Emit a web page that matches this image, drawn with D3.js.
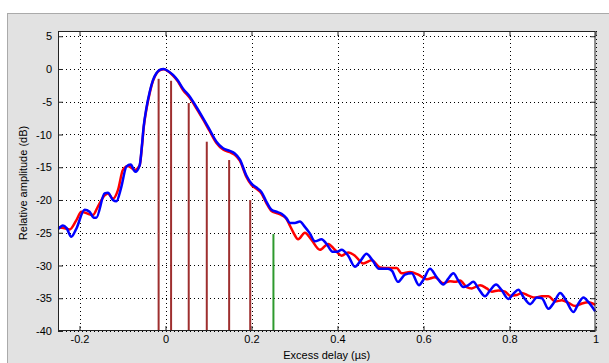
<!DOCTYPE html>
<html>
<head>
<meta charset="utf-8">
<script src="https://cdn.jsdelivr.net/npm/d3@7"></script>
<style>
html,body{margin:0;padding:0;background:#fff;}
svg{display:block;}
text{font-family:Arial,"Liberation Sans",sans-serif;font-size:11px;fill:#000;}
</style>
</head>
<body>
<svg id="chart" width="609" height="363"></svg>
<script>
// ---- data (x in µs, y in dB) ----
const xTicks = [-0.2, 0, 0.2, 0.4, 0.6, 0.8, 1];
const yTicks = [5, 0, -5, -10, -15, -20, -25, -30, -35, -40];
const xTickLabels = ["-0.2", "0", "0.2", "0.4", "0.6", "0.8", "1"];
const yTickLabels = ["5", "0", "-5", "-10", "-15", "-20", "-25", "-30", "-35", "-40"];

const blueX = [-0.2487,-0.2386,-0.230,-0.2191,-0.2075,-0.1881,-0.1765,-0.1665,-0.1609,-0.1416,-0.1339,-0.1222,-0.1143,-0.1027,-0.0910,-0.0810,-0.0701,-0.0601,-0.0547,-0.0508,-0.0445,-0.0368,-0.0291,-0.0212,-0.0135,-0.0042,0.0058,0.0175,0.0291,0.0407,0.0563,0.0719,0.0873,0.1029,0.1185,0.1339,0.1495,0.1611,0.1728,0.1884,0.2000,0.2116,0.2233,0.2349,0.2466,0.2582,0.2699,0.2815,0.2892,0.3008,0.3125,0.3241,0.3357,0.3474,0.3630,0.3746,0.3886,0.3993,0.4095,0.4249,0.4405,0.4545,0.4673,0.4824,0.4964,0.5173,0.5266,0.5406,0.5569,0.5725,0.5895,0.5995,0.6151,0.6307,0.6461,0.6577,0.6694,0.6810,0.6927,0.7043,0.7159,0.7276,0.7432,0.7548,0.7688,0.7821,0.7974,0.8091,0.8207,0.8324,0.8480,0.8636,0.8752,0.8906,0.9038,0.9178,0.9295,0.9488,0.9604,0.9721,0.9837,0.9993];
const blueY = [-24.4,-23.9,-24.3,-25.6,-24.4,-21.5,-21.8,-22.7,-22.7,-19.0,-18.9,-20.0,-20.2,-18.0,-14.9,-14.6,-15.7,-14.7,-11.6,-8.8,-6.0,-3.5,-1.7,-0.66,-0.15,0,-0.3,-0.9,-1.8,-3.0,-4.2,-5.8,-7.5,-9.3,-11.1,-12.1,-12.5,-12.9,-13.8,-16.3,-17.5,-18.1,-18.8,-20.3,-21.5,-21.8,-22.1,-22.8,-23.5,-23.5,-23.3,-24.1,-25.1,-26.3,-26.0,-26.7,-27.9,-27.9,-27.6,-28.5,-30.2,-29.2,-28.2,-29.3,-30.5,-30.5,-30.8,-32.5,-31.4,-31.2,-33.0,-32.2,-30.5,-31.8,-32.9,-32.0,-31.2,-32.3,-33.3,-33.0,-32.5,-33.5,-34.7,-33.8,-32.9,-33.8,-35.1,-34.3,-33.7,-34.8,-35.9,-34.9,-35.0,-36.6,-35.6,-34.2,-35.1,-37.1,-35.8,-34.9,-35.6,-37.0];

const redX = [-0.2487,-0.2347,-0.2230,-0.2075,-0.1958,-0.1804,-0.1688,-0.1572,-0.1416,-0.1339,-0.1222,-0.1106,-0.0990,-0.0873,-0.0717,-0.0601,-0.0547,-0.0508,-0.0445,-0.0368,-0.0291,-0.0212,-0.0135,-0.0042,0.0058,0.0175,0.0291,0.0407,0.0563,0.0719,0.0873,0.1029,0.1185,0.1339,0.1495,0.1611,0.1728,0.1884,0.2000,0.2116,0.2233,0.2349,0.2466,0.2582,0.2699,0.2815,0.2892,0.2969,0.3085,0.3241,0.3397,0.3590,0.3783,0.3939,0.4095,0.4249,0.4405,0.4598,0.4794,0.4987,0.5181,0.5376,0.5492,0.5686,0.5879,0.6075,0.6268,0.6461,0.6617,0.6733,0.6850,0.7006,0.7122,0.7315,0.7471,0.7588,0.7741,0.7898,0.8014,0.8170,0.8286,0.8440,0.8596,0.8752,0.8906,0.9062,0.9218,0.9371,0.9527,0.9683,0.9837,0.9993];
const redY = [-24.2,-24.3,-24.5,-23.1,-21.8,-22.1,-22.3,-21.0,-19.3,-19.0,-19.8,-18.5,-15.4,-14.8,-15.4,-14.7,-11.8,-9.0,-6.2,-3.7,-1.8,-0.7,-0.2,-0.05,-0.35,-1.0,-1.9,-3.2,-4.4,-6.0,-7.7,-9.5,-11.3,-12.3,-12.7,-13.1,-14.0,-16.5,-17.7,-18.3,-19.0,-20.5,-21.7,-22.0,-22.3,-22.9,-23.9,-24.9,-26.0,-25.0,-26.1,-27.6,-26.7,-27.6,-28.5,-28.0,-28.5,-29.7,-29.2,-30.3,-30.4,-30.4,-31.2,-31.0,-31.4,-32.1,-31.8,-32.7,-32.4,-32.5,-32.3,-33.3,-33.5,-33.0,-33.5,-34.0,-33.8,-34.0,-34.6,-34.5,-34.2,-34.6,-34.9,-34.7,-34.7,-35.5,-35.3,-35.7,-36.2,-35.8,-35.6,-36.0];

const stemX = [-0.016, 0.013, 0.054, 0.096, 0.148, 0.197];
const stemY = [-1.5, -1.8, -5.2, -11.1, -13.9, -20.0];
const greenStemX = [0.251];
const greenStemY = [-25.2];

const xDomain = [-0.25, 1];
const yDomain = [-40, 5.8];

// ---- layout ----
const svg = d3.select("#chart");
const L = 58, R = 595.5, T = 31, B = 331;

svg.append("rect").attr("x", 7.5).attr("y", 13.5).attr("width", 620).attr("height", 370)
  .attr("fill", "#e2e2e2").attr("stroke", "#aaaaaa");

const x = d3.scaleLinear().domain(xDomain).range([L, R]);
const y = d3.scaleLinear().domain(yDomain).range([B, T]);

svg.append("rect").attr("x", L).attr("y", T).attr("width", R - L).attr("height", B - T).attr("fill", "#fff");

const g = svg.append("g");
// grid
g.selectAll(".vg").data(xTicks).join("line")
  .attr("x1", d => Math.round(x(d)) + 0.5).attr("x2", d => Math.round(x(d)) + 0.5)
  .attr("y1", T).attr("y2", B)
  .attr("stroke", "#000").attr("stroke-width", 1).attr("stroke-dasharray", "1,3");
g.selectAll(".hg").data(yTicks).join("line")
  .attr("y1", d => Math.round(y(d)) + 0.5).attr("y2", d => Math.round(y(d)) + 0.5)
  .attr("x1", L).attr("x2", R)
  .attr("stroke", "#000").attr("stroke-width", 1).attr("stroke-dasharray", "1,3");

// stems
const stems = stemX.map((d, i) => ({x: d, y: stemY[i]}));
g.selectAll(".stem").data(stems).join("line")
  .attr("x1", d => x(d.x)).attr("x2", d => x(d.x))
  .attr("y1", y(-40)).attr("y2", d => y(d.y))
  .attr("stroke", "#9e2f2f").attr("stroke-width", 2);
const gstems = greenStemX.map((d, i) => ({x: d, y: greenStemY[i]}));
g.selectAll(".gstem").data(gstems).join("line")
  .attr("x1", d => x(d.x)).attr("x2", d => x(d.x))
  .attr("y1", y(-40)).attr("y2", d => y(d.y))
  .attr("stroke", "#2e9a2e").attr("stroke-width", 2);

// curves
const line = d3.line().x(d => x(d[0])).y(d => y(d[1])).curve(d3.curveMonotoneX);
const red = redX.map((d, i) => [d, redY[i]]);
const blue = blueX.map((d, i) => [d, blueY[i]]);
g.append("path").attr("d", line(red)).attr("fill", "none").attr("stroke", "#ff0000").attr("stroke-width", 2.5).attr("stroke-linejoin", "round");
g.append("path").attr("d", line(blue)).attr("fill", "none").attr("stroke", "#0000ff").attr("stroke-width", 2.5).attr("stroke-linejoin", "round");

// axes box and ticks
const xAxisB = d3.axisBottom(x).tickValues(xTicks).tickSize(-5).tickPadding(4).tickFormat((d, i) => xTickLabels[i]);
const xAxisT = d3.axisTop(x).tickValues(xTicks).tickSize(-5).tickFormat("");
const yAxisL = d3.axisLeft(y).tickValues(yTicks).tickSize(-5).tickPadding(6).tickFormat((d, i) => yTickLabels[i]);
const yAxisR = d3.axisRight(y).tickValues(yTicks).tickSize(-5).tickFormat("");

function style(sel) {
  sel.select(".domain").remove();
  sel.selectAll(".tick line").attr("stroke", "#222");
  sel.selectAll("text").style("font-family", 'Arial,"Liberation Sans",sans-serif').style("font-size", "11px").attr("fill", "#000");
}
svg.append("g").attr("transform", `translate(0,${B})`).call(xAxisB).call(style);
svg.append("g").attr("transform", `translate(0,${T})`).call(xAxisT).call(style);
svg.append("g").attr("transform", `translate(${L},0)`).call(yAxisL).call(style);
svg.append("g").attr("transform", `translate(${R},0)`).call(yAxisR).call(style);

svg.append("rect").attr("x", L + 0.5).attr("y", T + 0.5).attr("width", R - L - 1).attr("height", B - T - 1)
  .attr("fill", "none").attr("stroke", "#222").attr("stroke-width", 1);

// labels
svg.append("text").attr("x", (L + R) / 2).attr("y", 359).attr("text-anchor", "middle").text("Excess delay (µs)");
svg.append("text").attr("transform", `translate(27,${(T + B) / 2 + 2}) rotate(-90)`).attr("text-anchor", "middle").text("Relative amplitude (dB)");
</script>
</body>
</html>
